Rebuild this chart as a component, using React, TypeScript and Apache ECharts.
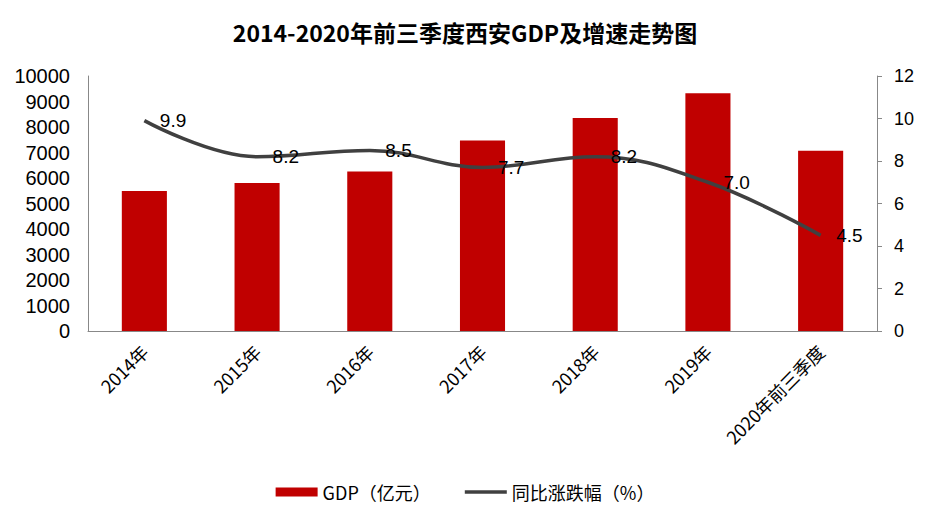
import React, { useEffect, useRef } from "react";
import * as echarts from "echarts";

const categories = ["2014年", "2015年", "2016年", "2017年", "2018年", "2019年", "2020年前三季度"];
const gdpValues = [5492.6, 5801.2, 6257.2, 7469.9, 8349.9, 9321.2, 7065.5];
const growthValues = [9.9, 8.2, 8.5, 7.7, 8.2, 7.0, 4.5];
const titleText = "2014-2020年前三季度西安GDP及增速走势图";
const gdpName = "GDP（亿元）";
const growthName = "同比涨跌幅（%）";

const LATIN = '"Liberation Sans", Arial, "Noto Sans CJK SC", sans-serif';
const CJK = '"Noto Sans CJK SC", "Liberation Sans", sans-serif';

export default function App() {
  const ref = useRef<HTMLDivElement>(null);
  useEffect(() => {
    if (!ref.current) return;
    const chart = echarts.init(ref.current, null, { renderer: "svg" });
    chart.setOption({
      animation: false,
      backgroundColor: "#ffffff",
      title: {
        text: titleText,
        left: "center",
        top: 15,
        textStyle: { fontFamily: CJK, fontSize: 23, fontWeight: "bold", color: "#000" },
      },
      legend: {
        bottom: 17,
        left: "center",
        itemGap: 34,
        itemWidth: 42,
        itemHeight: 9,
        textStyle: { fontFamily: CJK, fontSize: 18, color: "#000" },
        data: [
          { name: gdpName, icon: "rect" },
          { name: growthName, icon: "path://M0,0 L42,0 L42,3.5 L0,3.5 Z", itemStyle: { color: "#404040" } },
        ],
      },
      grid: { left: 88, right: 53, top: 76, bottom: 192 },
      xAxis: {
        type: "category",
        data: categories,
        axisLine: { show: true, lineStyle: { color: "#888888", width: 1 } },
        axisTick: { show: false },
        axisLabel: {
          rotate: 45,
          interval: 0,
          margin: 17,
          fontFamily: CJK,
          fontSize: 18,
          color: "#000",
        },
      },
      yAxis: [
        {
          type: "value",
          min: 0,
          max: 10000,
          interval: 1000,
          splitLine: { show: false },
          axisLine: { show: true, lineStyle: { color: "#888888", width: 1 } },
          axisTick: { show: false },
          axisLabel: {
            margin: 18,
            fontFamily: LATIN,
            fontSize: 20,
            color: "#000",
            formatter: (v: number) => String(v),
          },
        },
        {
          type: "value",
          min: 0,
          max: 12,
          interval: 2,
          position: "right",
          splitLine: { show: false },
          axisLine: { show: true, lineStyle: { color: "#888888", width: 1 } },
          axisTick: { show: true, length: 5, inside: false, lineStyle: { color: "#888888" } },
          axisLabel: { margin: 17, fontFamily: LATIN, fontSize: 18, color: "#000" },
        },
      ],
      series: [
        {
          name: gdpName,
          type: "bar",
          data: gdpValues,
          barWidth: "40%",
          itemStyle: { color: "#c00000" },
        },
        {
          name: growthName,
          type: "line",
          yAxisIndex: 1,
          data: growthValues,
          smooth: 0.4,
          symbol: "none",
          showSymbol: false,
          lineStyle: { color: "#404040", width: 3.5 },
          itemStyle: { color: "#404040" },
        },
        {
          name: "labels",
          type: "scatter",
          yAxisIndex: 1,
          data: growthValues,
          symbolSize: 1,
          itemStyle: { color: "rgba(0,0,0,0)" },
          silent: true,
          z: 5,
          label: {
            show: true,
            position: "right",
            distance: 15,
            fontFamily: LATIN,
            fontSize: 19,
            color: "#000000",
            opacity: 1,
            formatter: (p: any) => Number(p.value).toFixed(1),
          },
        },
      ],
    });
    return () => chart.dispose();
  }, []);
  return (
    <div
      style={{
        position: "fixed",
        left: 0,
        top: 0,
        width: 930,
        height: 523,
        boxSizing: "border-box",
        border: "2px solid #d9d9d9",
        background: "#fff",
      }}
    >
      <div ref={ref} style={{ position: "absolute", left: -2, top: -2, width: 930, height: 523 }} />
    </div>
  );
}
